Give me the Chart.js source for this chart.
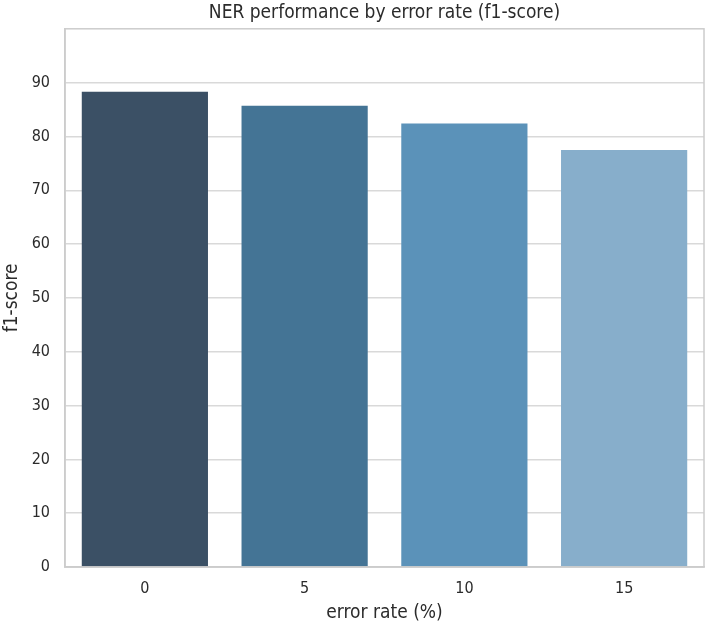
<!DOCTYPE html>
<html>
<head>
<meta charset="utf-8">
<script src="https://cdn.jsdelivr.net/npm/chart.js@4/dist/chart.umd.min.js"></script>
<style>
  html, body { margin: 0; padding: 0; background: #fff; }
  #wrap { width: 707px; height: 626px; }
</style>
</head>
<body>
<div id="wrap"><canvas id="nerChart" width="707" height="626"></canvas></div>
<script>
// Data
const errorRates = ["0", "5", "10", "15"];
const f1Scores = [88.3, 85.7, 82.4, 77.5];
const barColors = ["#3b5065", "#447495", "#5b92b9", "#87aecb"];
const yTicks = [0, 10, 20, 30, 40, 50, 60, 70, 80, 90];

const FONT = "'DejaVu Sans Condensed', 'DejaVu Sans', sans-serif";
const EDGE = "#cccccc";
const TEXT = "#2b2b2b";

// draw the box around the plot area (top and right edges too)
const frame = {
  id: "frame",
  afterDraw(chart) {
    const a = chart.chartArea;
    const c = chart.ctx;
    c.save();
    c.strokeStyle = EDGE;
    c.lineWidth = 1.5;
    c.strokeRect(a.left, a.top, a.right - a.left, a.bottom - a.top);
    c.restore();
  },
};

const ctx = document.getElementById("nerChart").getContext("2d");
new Chart(ctx, {
  type: "bar",
  data: {
    labels: errorRates,
    datasets: [
      {
        data: f1Scores,
        backgroundColor: barColors,
        borderWidth: 0,
        barPercentage: 0.79,
        categoryPercentage: 1.0,
      },
    ],
  },
  options: {
    responsive: false,
    animation: false,
    layout: { padding: { left: 0, right: 3, top: 0, bottom: 0 } },
    plugins: {
      legend: { display: false },
      tooltip: { enabled: false },
      title: {
        display: true,
        fullSize: false, // centre over the plot, like matplotlib
        text: "NER performance by error rate (f1-score)",
        color: TEXT,
        font: { family: FONT, size: 19, weight: "normal" },
        padding: { top: 2, bottom: 4 },
      },
    },
    scales: {
      x: {
        grid: { display: false, drawTicks: false },
        border: { display: true, color: EDGE, width: 1.5 },
        ticks: { color: TEXT, padding: 12, font: { family: FONT, size: 16 } },
        title: {
          display: true,
          text: "error rate (%)",
          color: TEXT,
          font: { family: FONT, size: 19 },
          padding: { top: 0, bottom: 2 },
        },
        afterFit(scale) { scale.height = 59; },
      },
      y: {
        min: 0,
        max: 100,
        afterBuildTicks(scale) { scale.ticks = yTicks.concat([100]).map(v => ({ value: v })); },
        grid: {
          drawTicks: false,
          lineWidth: 1.5,
          color: (c) => (c.tick && c.tick.value === 100 ? "rgba(0,0,0,0)" : "#d9d9d9"),
        },
        border: { display: true, color: EDGE, width: 1.5 },
        ticks: {
          color: TEXT,
          padding: 15,
          font: { family: FONT, size: 16 },
          callback: (v) => (v === 100 ? "" : v),
        },
        title: {
          display: true,
          text: "f1-score",
          color: TEXT,
          font: { family: FONT, size: 19 },
          padding: { top: 1, bottom: 0 },
        },
        afterFit(scale) { scale.width = 65; },
      },
    },
  },
  plugins: [frame],
});
</script>
</body>
</html>
